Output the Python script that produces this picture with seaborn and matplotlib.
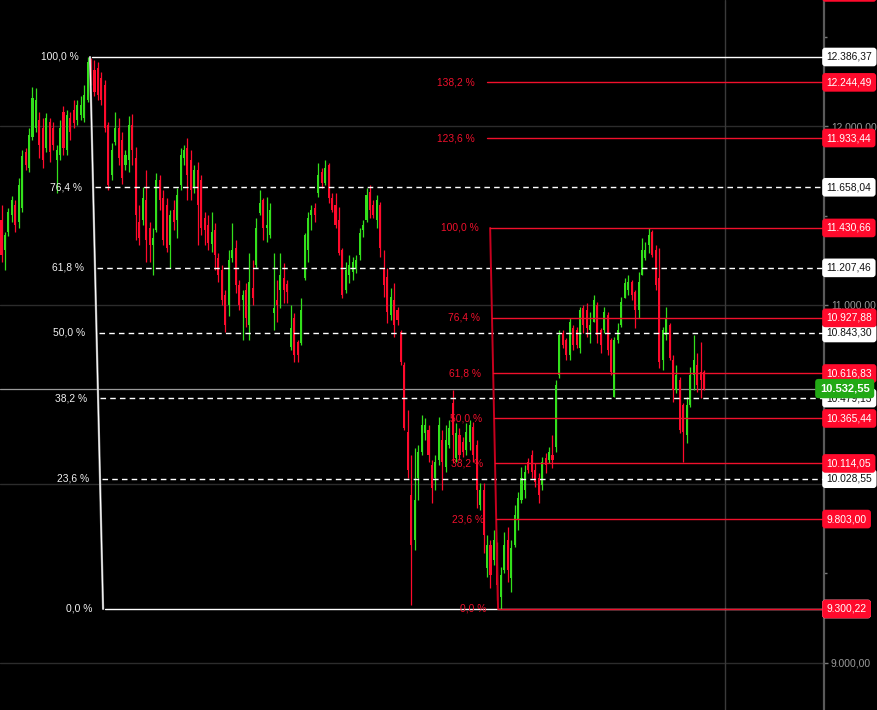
import numpy as np
import pandas as pd
import matplotlib
matplotlib.use('Agg')
import matplotlib.pyplot as plt
import seaborn as sns

# -----------------------------
# OHLC bars (one value per bar)
# -----------------------------
opens = [
    11475, 11307, 11408, 11503, 11559, 11464, 11542, 11855, 11766, 11939,
    11990, 12034, 11990, 11878, 12023, 11990, 11811, 11839, 12079, 11867,
    12045, 12090, 12034, 12062, 12045, 12146, 12358, 12314, 12325, 12269,
    12230, 12006, 11727, 11911, 11990, 11922, 11783, 11811, 12006, 11822,
    11464, 11475, 11587, 11430, 11335, 11419, 11699, 11598, 11559, 11335,
    11531, 11475, 11671, 11822, 11878, 11811, 11654, 11755, 11699, 11486,
    11447, 11341, 11419, 11263, 11196, 11056, 11000, 11263, 11319, 11112,
    11028, 11084, 10888, 11095, 11224, 11514, 11587, 11430, 11391, 10955,
    11028, 11084, 11151, 11118, 10765, 10927, 10793, 10788, 11151, 11307,
    11503, 11542, 11626, 11744, 11682, 11783, 11598, 11559, 11475, 11307,
    11084, 11168, 11185, 11207, 11280, 11419, 11475, 11632, 11559, 11475,
    11559, 11207, 11157, 10944, 11028, 10972, 10849, 10665, 10290, 9938,
    9686, 10033, 10178, 10285, 10301, 10106, 10033, 10133, 10245, 10094,
    10217, 10452, 10145, 10273, 10234, 10189, 10234, 10318, 10217, 9882,
    9966, 9530, 9658, 9575, 9658, 9368, 9519, 9686, 9474, 9658,
    9798, 9910, 9966, 10122, 10161, 10078, 10033, 9994, 10145, 10133,
    10161, 10206, 10609, 10843, 10804, 10721, 10872, 10860, 10760, 10983,
    10972, 10860, 10905, 11000, 10860, 10860, 10944, 10804, 10486, 10804,
    10888, 11039, 11084, 11129, 11073, 10972, 11168, 11263, 11335, 11408,
    11307, 11151, 10693, 10832, 10888, 10693, 10525, 10581, 10441, 10273,
    10441, 10609, 10665, 10625, 10625,
]
highs = [
    11559, 11408, 11542, 11609, 11587, 11710, 11867, 11878, 11990, 12219,
    12213, 12079, 12045, 12073, 12045, 12023, 11894, 12034, 12112, 12090,
    12079, 12146, 12146, 12168, 12230, 12386.37, 12381, 12370, 12358, 12303,
    12258, 12023, 11906, 12079, 12045, 11967, 11867, 12057, 12068, 11883,
    11559, 11660, 11755, 11464, 11430, 11738, 11727, 11643, 11598, 11531,
    11587, 11654, 11878, 11894, 11934, 11867, 11783, 11799, 11727, 11520,
    11503, 11520, 11458, 11291, 11224, 11084, 11307, 11458, 11363, 11140,
    11084, 11123, 11291, 11252, 11486, 11643, 11598, 11604, 11570, 11291,
    11140, 11291, 11235, 11140, 11000, 10955, 10804, 11039, 11402, 11520,
    11559, 11570, 11794, 11766, 11811, 11794, 11626, 11626, 11548, 11319,
    11240, 11280, 11268, 11280, 11430, 11475, 11654, 11671, 11587, 11615,
    11576, 11307, 11207, 11095, 11123, 10989, 10860, 10681, 10413, 10161,
    10201, 10217, 10385, 10368, 10329, 10133, 10161, 10374, 10301, 10329,
    10357, 10525, 10340, 10312, 10262, 10340, 10357, 10346, 10245, 10005,
    10005, 9714, 9686, 9742, 9675, 9535, 9731, 9759, 9686, 9882,
    9955, 10094, 10106, 10145, 10189, 10117, 10061, 10150, 10173, 10206,
    10273, 10581, 10860, 10860, 10816, 10927, 10888, 10877, 10989, 11000,
    11011, 10961, 11056, 11017, 10872, 10989, 10961, 10816, 10821, 10899,
    11045, 11151, 11168, 11140, 11084, 11185, 11375, 11352, 11430.66, 11419,
    11335, 11319, 10877, 10989, 10899, 10721, 10665, 10598, 10452, 10486,
    10653, 10832, 10732, 10793, 10637,
]
lows = [
    11240, 11196, 11386, 11464, 11408, 11430, 11520, 11755, 11744, 11922,
    11967, 11822, 11766, 11855, 11799, 11867, 11626, 11811, 11839, 11839,
    11922, 11990, 12006, 12034, 12023, 12135, 12230, 12168, 12146, 12118,
    11967, 11643, 11699, 11894, 11783, 11676, 11755, 11744, 11783, 11363,
    11335, 11447, 11240, 11240, 11168, 11408, 11531, 11335, 11296, 11207,
    11419, 11375, 11643, 11783, 11587, 11587, 11626, 11335, 11391, 11335,
    11307, 11296, 11196, 11129, 11000, 10849, 10939, 11240, 11067, 10972,
    10804, 10877, 10804, 11000, 11207, 11503, 11363, 11352, 11375, 10860,
    10905, 10983, 11011, 11011, 10748, 10681, 10681, 10776, 11140, 11240,
    11419, 11464, 11604, 11654, 11671, 11570, 11520, 11430, 11280, 11039,
    11067, 11123, 11140, 11179, 11252, 11380, 11464, 11486, 11486, 11430,
    11268, 11045, 10899, 10916, 10821, 10888, 10665, 10301, 10033, 9323,
    9630, 9910, 10161, 10245, 10122, 9893, 9966, 10106, 9966, 10066,
    10201, 10117, 10122, 10133, 10150, 10161, 10189, 10122, 9865, 9854,
    9614, 9480, 9418, 9547, 9351, 9300.22, 9502, 9452, 9396, 9647,
    9742, 9893, 9921, 10061, 10033, 9983, 9893, 9966, 10061, 10117,
    10089, 10178, 10592, 10760, 10693, 10693, 10748, 10760, 10732, 10843,
    10821, 10788, 10905, 10788, 10732, 10843, 10721, 10609, 10486, 10788,
    10877, 11039, 11056, 11028, 10872, 10927, 11168, 11252, 11291, 11268,
    11084, 10648, 10637, 10804, 10693, 10458, 10508, 10285, 10122, 10229,
    10430, 10525, 10514, 10480, 10525,
]
closes = [
    11280, 11391, 11520, 11587, 11447, 11671, 11833, 11783, 11950, 12157,
    12146, 11894, 11811, 12045, 11855, 11894, 11867, 11990, 11878, 12062,
    11967, 12017, 12118, 12118, 12174, 12358, 12269, 12191, 12174, 12146,
    11990, 11671, 11867, 11990, 11822, 11710, 11839, 12006, 11867, 11503,
    11375, 11598, 11363, 11335, 11375, 11699, 11587, 11363, 11319, 11503,
    11464, 11615, 11839, 11867, 11727, 11643, 11755, 11559, 11430, 11419,
    11347, 11408, 11280, 11168, 11028, 10888, 11252, 11307, 11112, 11000,
    11056, 10927, 11129, 11039, 11430, 11570, 11430, 11447, 11531, 10983,
    11000, 11168, 11084, 11073, 10872, 10721, 10721, 10972, 11391, 11486,
    11531, 11503, 11727, 11682, 11766, 11598, 11531, 11447, 11291, 11056,
    11196, 11224, 11240, 11252, 11402, 11447, 11615, 11531, 11503, 11587,
    11319, 11112, 10961, 11045, 10888, 10916, 10681, 10312, 10078, 9658,
    9910, 10178, 10329, 10329, 10161, 9977, 10122, 10329, 10122, 10245,
    10312, 10273, 10285, 10161, 10178, 10290, 10329, 10161, 9966, 9966,
    9714, 9658, 9491, 9686, 9435, 9491, 9658, 9519, 9642, 9826,
    9921, 10033, 10066, 10078, 10066, 10011, 9938, 10122, 10106, 10178,
    10133, 10553, 10832, 10776, 10721, 10905, 10776, 10776, 10972, 10888,
    10872, 10888, 11028, 10832, 10776, 10961, 10748, 10625, 10804, 10860,
    11017, 11123, 11129, 11056, 10972, 11129, 11307, 11307, 11391, 11280,
    11112, 10681, 10860, 10927, 10704, 10525, 10609, 10301, 10290, 10441,
    10609, 10693, 10553, 10581, 10532.55,
]

# Fibonacci retracements drawn on the chart
fib_levels = [0.0, 0.236, 0.382, 0.5, 0.618, 0.764, 1.0]
white_fib_prices = [12386.37, 9300.22]          # 100 % / 0 %
white_fib_bars = [25.7, 29.5]
red_fib_levels = [0.0, 0.236, 0.382, 0.5, 0.618, 0.764, 1.0, 1.236, 1.382, 1.618]
red_fib_prices = [11430.66, 9300.22]
red_fib_bars = [141.9, 144.2]

grid_prices = [9000, 10000, 11000, 12000]
minor_prices = [9500, 10500, 11500, 12500]

GREEN = '#33e01c'
RED = '#ff0a2c'
FIB_RED = '#f0102c'

df = pd.DataFrame({'open': opens, 'high': highs, 'low': lows, 'close': closes})
df['up'] = df['close'] >= df['open']
colors = np.where(df['up'], GREEN, RED)
last = df['close'].iloc[-1]


def fmt(p):
    s = f"{p:,.2f}"
    return s.replace(',', 'X').replace('.', ',').replace('X', '.')


def pct(r):
    return f"{r * 100:.1f}".replace('.', ',') + " %"


sns.set_theme(style='dark', rc={'axes.facecolor': 'black', 'figure.facecolor': 'black',
                                'axes.grid': False, 'axes.edgecolor': '#5a5a5a'})
plt.rcParams['font.family'] = ['Liberation Sans', 'DejaVu Sans']

fig = plt.figure(figsize=(8.77, 7.10), dpi=100)
ax = fig.add_axes([0, 0, 824 / 877, 1])
XMAX = 238.85
ax.set_xlim(-0.436, XMAX)
ax.set_ylim(8735.5, 12705)

# grid + current price line
for g in grid_prices:
    ax.axhline(g, color='#2c2c2c', lw=1, zorder=1)
ax.axvline(210.1, color='#3a3a3a', lw=1, zorder=1)
ax.axhline(last, color='#9a9a9a', lw=0.9, zorder=1.5)

# -----------------------------
# candles
# -----------------------------
body_lo = df[['open', 'close']].min(axis=1)
body_h = (df['close'] - df['open']).abs().clip(lower=4)
ax.vlines(df.index, df['low'], df['high'], colors=colors, lw=0.9, zorder=3)
ax.bar(df.index, body_h, bottom=body_lo, width=0.6, color=colors, lw=0, zorder=3)


def price_box(p, fc, tc, dx=1.8, size=7.4, weight='normal', z=6):
    ax.annotate(fmt(p), xy=(1, p), xycoords=('axes fraction', 'data'),
                xytext=(dx, 0), textcoords='offset points', ha='left', va='center',
                fontsize=size, color=tc, fontweight=weight, annotation_clip=False, zorder=z,
                bbox=dict(boxstyle='round,pad=0.42,rounding_size=0.3', fc=fc, ec='none'))


# -----------------------------
# white fib (first swing)
# -----------------------------
hi, lo = white_fib_prices
xa, xb = white_fib_bars
ax.plot([xa, xb], [hi, lo], color='#9a9a9a', lw=1.6, zorder=4)
ax.plot([xa, xb], [hi, lo], color='white', lw=0.8, zorder=4.1)
for r in fib_levels:
    p = lo + r * (hi - lo)
    x0 = xa + (xb - xa) * (1 - r)
    ls = '-' if r in (0.0, 1.0) else (0, (4, 3))
    ax.plot([x0 + 0.6, XMAX], [p, p], color='white', lw=1.0, ls=ls, zorder=4)
    ax.annotate(pct(r), xy=(x0, p), xytext=(-8, 0), textcoords='offset points',
                ha='right', va='center', color='#f2f2f2', fontsize=7.4, zorder=5)
    price_box(p, 'white', '#111111')

# -----------------------------
# red fib (second swing)
# -----------------------------
hi, lo = red_fib_prices
xa, xb = red_fib_bars
ax.plot([xa, xb], [hi, lo], color='#c8001e', lw=1.4, zorder=4)
for r in red_fib_levels:
    p = lo + r * (hi - lo)
    x0 = xa + (xb - xa) * (1 - r) if r <= 1 else xa - 1.0
    ax.plot([x0, XMAX], [p, p], color=FIB_RED, lw=1.0, zorder=4)
    if p < 12705:
        ax.annotate(pct(r), xy=(x0, p), xytext=(-8.5, 0), textcoords='offset points',
                    ha='right', va='center', color=FIB_RED, fontsize=7.4, zorder=5)
    price_box(p, RED, 'white', z=6.5)

# current price label
price_box(last, '#22a915', 'white', dx=-3.0, size=8.0, weight='bold', z=8)

# right axis (10.000 label sits behind the 23,6 % box in the original)
ax.yaxis.tick_right()
ax.set_yticks(grid_prices)
ax.set_yticklabels([fmt(g) if g != 10000 else '' for g in grid_prices])
ax.set_yticks(minor_prices, minor=True)
ax.tick_params(axis='y', which='major', colors='#7a7a7a', labelcolor='#9a9a9a',
               labelsize=7.4, length=3, width=1, pad=2, right=True, left=False)
ax.tick_params(axis='y', which='minor', colors='#7a7a7a', length=2, width=1,
               right=True, left=False)
ax.set_xticks([])
for side in ['top', 'left', 'bottom']:
    ax.spines[side].set_visible(False)
ax.spines['right'].set_color('#5a5a5a')
ax.spines['right'].set_linewidth(1.6)

fig.savefig('out.png', dpi=100, facecolor='black')
